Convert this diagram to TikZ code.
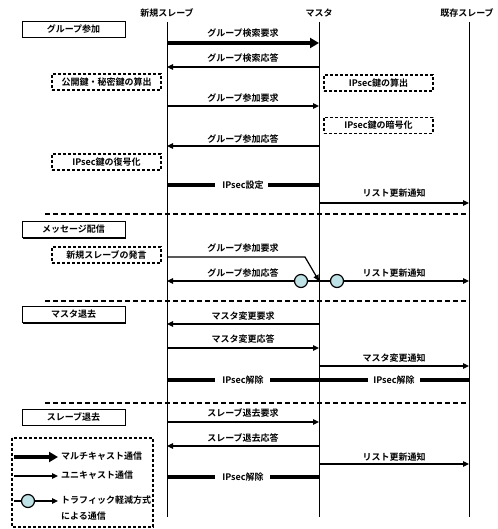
\documentclass[tikz,border=0pt]{standalone}
\usepackage{fontspec}
\setmainfont{Noto Sans CJK JP}[BoldFont={Noto Sans CJK JP Bold}]
\usetikzlibrary{arrows.meta,shadows}
\definecolor{circfill}{RGB}{190,226,229}
\begin{document}
\begin{tikzpicture}[x=1pt,y=-1pt,
  font=\fontsize{9}{10.5}\selectfont\bfseries,
  life/.style={line width=1pt},
  multi/.style={line width=3.5pt,-{Triangle[length=9pt,width=10pt]}},
  uni/.style={line width=1.2pt,-{Triangle[length=6pt,width=5.5pt]}},
  plain/.style={line width=1.2pt},
  barline/.style={line width=3.5pt},
  sect/.style={draw,line width=0.8pt,fill=white,minimum width=103pt,minimum height=16pt,inner sep=0pt,
    general shadow={shadow xshift=1pt,shadow yshift=-1pt,fill=black}},
  dbox/.style={draw,line width=1.2pt,dash pattern=on 3pt off 2pt,minimum width=109pt,minimum height=16pt,inner sep=0pt},
  sep/.style={line width=1.5pt,dash pattern=on 5pt off 3pt},
  lbl/.style={inner sep=0pt},
  circ/.style={circle,draw,line width=1.2pt,fill=circfill,minimum size=13pt,inner sep=0pt}]
\useasboundingbox (0,0) rectangle (497,529);

% lifeline heads
\node[lbl] (hA) at (167,13) {新規スレーブ};
\node[lbl] (hB) at (319,13) {マスタ};
\node[lbl] (hC) at (467,13) {既存スレーブ};
\coordinate (A) at (167,22);
\coordinate (B) at (319,22);
\coordinate (C) at (469,22);
\coordinate (Ae) at (167,517);
\coordinate (Be) at (319,517);
\coordinate (Ce) at (469,517);
\draw[life] (A) -- (Ae);
\draw[life] (B) -- (Be);
\draw[life] (C) -- (Ce);

% section boxes
\node[sect] (s1) at (73.5,29.5) {グループ参加};
\node[sect] (s2) at (73.5,229.5) {メッセージ配信};
\node[sect] (s3) at (73.5,314.5) {マスタ退去};
\node[sect] (s4) at (73.5,417) {スレーブ退去};

% dashed process boxes
\node[dbox] (d1) at (106.5,82) {公開鍵・秘密鍵の算出};
\node[dbox] (d2) at (378.5,83) {IPsec鍵の算出};
\node[dbox] (d3) at (378.5,125.5) {IPsec鍵の暗号化};
\node[dbox] (d4) at (106.5,162) {IPsec鍵の復号化};
\node[dbox] (d5) at (106.5,255) {新規スレーブの発言};

% separators
\coordinate (p1) at (45,214);
\coordinate (p2) at (45,301);
\coordinate (p3) at (45,403);
\draw[sep] (p1) -- (C |- p1);
\draw[sep] (p2) -- (C |- p2);
\draw[sep] (p3) -- (C |- p3);

% group join
\node[lbl] (m1) at (243,33) {グループ検索要求};
\draw[multi] (A |- 0,43) -- (B |- 0,43);
\node[lbl] (m2) at (243,58) {グループ検索応答};
\draw[uni] (B |- 0,67) -- (A |- 0,67);
\node[lbl] (m3) at (243,98) {グループ参加要求};
\draw[uni] (A |- 0,106) -- (B |- 0,106);
\node[lbl] (m4) at (243,139) {グループ参加応答};
\draw[uni] (B |- 0,146) -- (A |- 0,146);
\node[lbl] (m5) at (243,185) {IPsec設定};
\draw[barline] (A |- 0,185) -- (215,185);
\draw[barline] (268,185) -- (B |- 0,185);
\node[lbl] (m6) at (394,193) {リスト更新通知};
\draw[uni] (B |- 0,203) -- (C |- 0,203);

% message delivery
\node[lbl] (m7) at (243,248) {グループ参加要求};
\coordinate (k1) at (305,257);
\draw[uni] (A |- k1) -- (k1) -- (B |- 0,281);
\node[lbl] (m8) at (243,273) {グループ参加応答};
\draw[uni] (B |- 0,281) -- (A |- 0,281);
\node[circ] (c1) at (301,281) {};
\node[lbl] (m9) at (394,273) {リスト更新通知};
\draw[uni] (B |- 0,281) -- (C |- 0,281);
\node[circ] (c2) at (337,281) {};

% master leave
\node[lbl] (m10) at (243,316) {マスタ変更要求};
\draw[uni] (B |- 0,324) -- (A |- 0,324);
\node[lbl] (m11) at (243,339) {マスタ変更応答};
\draw[uni] (A |- 0,348) -- (B |- 0,348);
\node[lbl] (m12) at (394,358) {マスタ変更通知};
\draw[uni] (B |- 0,366) -- (C |- 0,366);
\node[lbl] (m13) at (243,380) {IPsec解除};
\node[lbl] (m14) at (394,380) {IPsec解除};
\draw[barline] (A |- 0,380) -- (215,380);
\draw[barline] (270,380) -- (368,380);
\draw[barline] (420,380) -- (C |- 0,380);

% slave leave
\node[lbl] (m15) at (243,413) {スレーブ退去要求};
\draw[uni] (A |- 0,422) -- (B |- 0,422);
\node[lbl] (m16) at (243,438) {スレーブ退去応答};
\draw[uni] (B |- 0,446) -- (A |- 0,446);
\node[lbl] (m17) at (394,457) {リスト更新通知};
\draw[uni] (B |- 0,464) -- (C |- 0,464);
\node[lbl] (m18) at (243,477) {IPsec解除};
\draw[barline] (A |- 0,477) -- (215,477);
\draw[barline] (270,477) -- (B |- 0,477);

% legend
\draw[line width=1.2pt,dash pattern=on 3pt off 2pt] (12,438) rectangle (153,527);
\coordinate (L1a) at (14,457); \coordinate (L1b) at (58,457);
\coordinate (L2a) at (14,476); \coordinate (L2b) at (58,476);
\coordinate (L3a) at (14,501); \coordinate (L3b) at (58,501);
\draw[multi] (L1a) -- (L1b);
\draw[uni] (L2a) -- (L2b);
\draw[uni] (L3a) -- (L3b);
\node[circ] (lc) at (28,501) {};
\node[lbl,anchor=west] (t1) at (61,456) {マルチキャスト通信};
\node[lbl,anchor=west] (t2) at (61,475) {ユニキャスト通信};
\node[lbl,anchor=west] (t3) at (61,500) {トラフィック軽減方式};
\node[lbl,anchor=west] (t4) at (61,516) {による通信};
\end{tikzpicture}
\end{document}
